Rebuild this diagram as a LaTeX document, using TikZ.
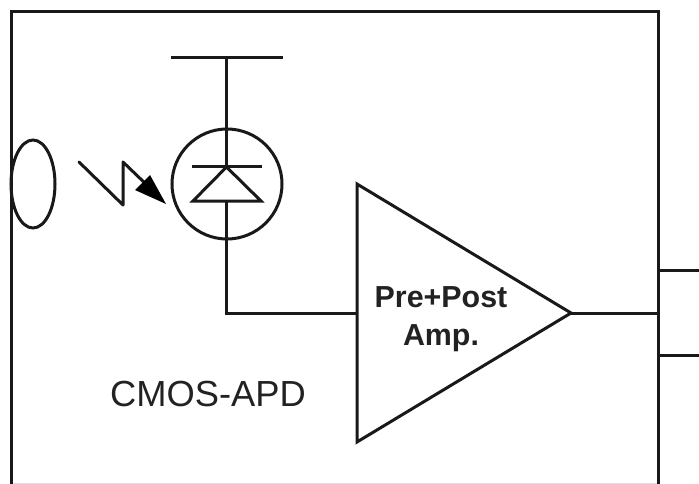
\documentclass[tikz,border=0pt]{standalone}
\usepackage{fontspec}
\setmainfont{Liberation Sans}
\usetikzlibrary{shapes.geometric}
\definecolor{inktext}{HTML}{222222}
\tikzset{
  wire/.style={draw=black!90, line width=3pt, line join=miter},
  plainlabel/.style={inner sep=0pt, align=center, text=inktext, font=\fontsize{36.3}{40}\selectfont},
  amplabel/.style={inner sep=0pt, align=center, text=inktext, font=\fontsize{30.4}{38}\selectfont\bfseries}
}
\begin{document}
\begin{tikzpicture}[x=1pt,y=-1pt]
\useasboundingbox (0,0) rectangle (699,484);
\fill[white] (0,0) rectangle (699,484);
% package outline and pad
\draw[black!12, line width=1pt] (11,483.5) -- (658,483.5);
\draw[wire] (11,484) -- (11,12) -- (658,12) -- (658,484);
\draw[wire] (699,270) -- (658,270) -- (658,355) -- (699,355);
% lens
\node[ellipse, draw=black!90, line width=3pt, minimum width=44pt, minimum height=88pt, inner sep=0pt] (lens) at (33,184) {};
% light arrow
\coordinate (lighta) at (79,162);
\coordinate (lightb) at (123,205);
\coordinate (lightc) at (123,162);
\coordinate (lightd) at (150,188);
\coordinate (lighttip) at (166,204);
\draw[wire, line join=round, line cap=round] (lighta) -- (lightb) -- (lightc) -- (lightd);
\fill[black] (lighttip) -- (135,190) -- (150,175) -- cycle;
% photodiode
\coordinate (rail) at (226.5,58);
\coordinate (railL) at (171,58);
\coordinate (railR) at (283,58);
\draw[wire] (railL) -- (railR);
\node[circle, draw=black!90, line width=3pt, minimum size=110pt, inner sep=0pt] (apd) at (227,184) {};
\coordinate (apex) at (226.5,167);
\coordinate (baseL) at (193,201);
\coordinate (baseR) at (261,201);
\coordinate (base) at (226.5,201);
\draw[wire] (192,167) -- (262,167);
\draw[wire] (apex) -- (baseR) -- (baseL) -- cycle;
\draw[wire] (rail) -- (apex);
% amplifier
\coordinate (ampA) at (357,184);
\coordinate (ampB) at (357,442);
\coordinate (ampOut) at (571,313);
\coordinate (ampIn) at (357,313);
\coordinate (pad) at (658,313);
\draw[wire] (ampA) -- (ampB) -- (ampOut) -- cycle;
\draw[wire] (base) |- (ampIn);
\draw[wire] (ampOut) -- (pad);
\node[amplabel] (amp) at (441,319) {Pre+Post\\Amp.};
\node[plainlabel] (cmos) at (208,394) {CMOS-APD};
\end{tikzpicture}
\end{document}
